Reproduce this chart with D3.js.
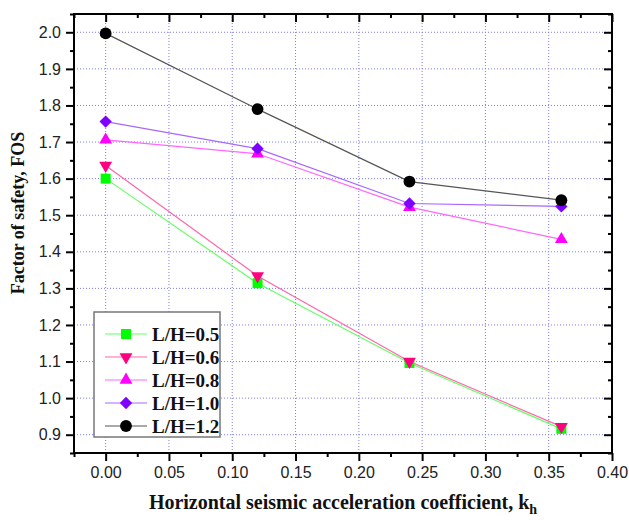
<!DOCTYPE html>
<html>
<head>
<meta charset="utf-8">
<script src="https://cdn.jsdelivr.net/npm/d3@7"></script>
<style>
  body { margin: 0; background: #fff; }
  svg { display: block; }
</style>
</head>
<body>
<svg id="chart" width="629" height="520"></svg>
<script>
const khValues = [0, 0.12, 0.24, 0.36];
const seriesNames = ["L/H=0.5", "L/H=0.6", "L/H=0.8", "L/H=1.0", "L/H=1.2"];
const fos05 = [1.60, 1.314, 1.096, 0.916];
const fos06 = [1.636, 1.334, 1.10, 0.922];
const fos08 = [1.706, 1.668, 1.522, 1.434];
const fos10 = [1.756, 1.682, 1.532, 1.524];
const fos12 = [1.997, 1.79, 1.592, 1.541];
const xTicks = [0, 0.05, 0.1, 0.15, 0.2, 0.25, 0.3, 0.35, 0.4];
const yTicks = [0.9, 1.0, 1.1, 1.2, 1.3, 1.4, 1.5, 1.6, 1.7, 1.8, 1.9, 2.0];

const series = [
  { name: seriesNames[0], values: fos05, color: "#00ff00", line: "#66ff66", symbol: d3.symbolSquare, size: 100, rot: 0 },
  { name: seriesNames[1], values: fos06, color: "#ff0080", line: "#ff66aa", symbol: d3.symbolTriangle, size: 72, rot: 180 },
  { name: seriesNames[2], values: fos08, color: "#ff00ff", line: "#ff66ff", symbol: d3.symbolTriangle, size: 72, rot: 0 },
  { name: seriesNames[3], values: fos10, color: "#8000ff", line: "#a866ff", symbol: d3.symbolSquare, size: 76, rot: 45 },
  { name: seriesNames[4], values: fos12, color: "#000000", line: "#555555", symbol: d3.symbolCircle, size: 110, rot: 0 },
];

const svg = d3.select("#chart");
const plotLeft = 74, plotRight = 612, plotTop = 14, plotBottom = 453;

const x = d3.scaleLinear().domain([-0.025, 0.4]).range([plotLeft, plotRight]);
const y = d3.scaleLinear().domain([0.85, 2.05]).range([plotBottom, plotTop]);

// grid
const grid = svg.append("g").attr("stroke", "#7b7bff").attr("stroke-width", 1)
  .attr("stroke-dasharray", "1,2");
xTicks.slice(0, -1).forEach((t) => {
  grid.append("line").attr("x1", x(t)).attr("x2", x(t)).attr("y1", plotTop).attr("y2", plotBottom);
});
yTicks.forEach((t) => {
  grid.append("line").attr("x1", plotLeft).attr("x2", plotRight).attr("y1", y(t)).attr("y2", y(t));
});

const xMinor = d3.range(-0.025, 0.401, 0.05);
const yMinor = d3.range(0.85, 2.051, 0.1);

function styleAxis(g) {
  g.select(".domain").remove();
  g.selectAll("line").attr("stroke", "#000").attr("stroke-width", 2);
  g.selectAll("text").attr("font-family", "Liberation Sans, Arial, sans-serif")
    .attr("font-size", 16).attr("fill", "#222");
}

// bottom
svg.append("g").attr("transform", `translate(0,${plotBottom})`)
  .call(d3.axisBottom(x).tickValues(xTicks).tickFormat(d3.format(".2f")).tickSize(8).tickPadding(6))
  .call(styleAxis);
svg.append("g").attr("transform", `translate(0,${plotBottom})`)
  .call(d3.axisBottom(x).tickValues(xMinor).tickFormat("").tickSize(4))
  .call(styleAxis);
// top (inward)
svg.append("g").attr("transform", `translate(0,${plotTop})`)
  .call(d3.axisBottom(x).tickValues(xTicks).tickFormat("").tickSize(8))
  .call(styleAxis);
svg.append("g").attr("transform", `translate(0,${plotTop})`)
  .call(d3.axisBottom(x).tickValues(xMinor).tickFormat("").tickSize(4))
  .call(styleAxis);
// left
svg.append("g").attr("transform", `translate(${plotLeft},0)`)
  .call(d3.axisLeft(y).tickValues(yTicks).tickFormat(d3.format(".1f")).tickSize(8).tickPadding(5))
  .call(styleAxis);
svg.append("g").attr("transform", `translate(${plotLeft},0)`)
  .call(d3.axisLeft(y).tickValues(yMinor).tickFormat("").tickSize(4))
  .call(styleAxis);
// right (inward)
svg.append("g").attr("transform", `translate(${plotRight},0)`)
  .call(d3.axisLeft(y).tickValues(yTicks).tickFormat("").tickSize(8))
  .call(styleAxis);
svg.append("g").attr("transform", `translate(${plotRight},0)`)
  .call(d3.axisLeft(y).tickValues(yMinor).tickFormat("").tickSize(4))
  .call(styleAxis);

// frame
svg.append("rect").attr("x", plotLeft).attr("y", plotTop)
  .attr("width", plotRight - plotLeft).attr("height", plotBottom - plotTop)
  .attr("fill", "none").attr("stroke", "#000").attr("stroke-width", 2);

// series
const line = d3.line().x((d, i) => x(khValues[i])).y((d) => y(d));
series.forEach((s) => {
  svg.append("path").datum(s.values).attr("d", line)
    .attr("fill", "none").attr("stroke", s.line).attr("stroke-width", 1.2);
  svg.selectAll(null).data(s.values).enter().append("path")
    .attr("d", d3.symbol().type(s.symbol).size(s.size))
    .attr("transform", (d, i) => `translate(${x(khValues[i])},${y(d)}) rotate(${s.rot})`)
    .attr("fill", s.color);
});

// legend
const lg = svg.append("g").attr("transform", "translate(94,312)");
lg.append("rect").attr("width", 126).attr("height", 125)
  .attr("fill", "#fff").attr("stroke", "#777").attr("stroke-width", 1.5);
series.forEach((s, i) => {
  const ry = 22 + i * 23;
  lg.append("line").attr("x1", 11).attr("x2", 53).attr("y1", ry).attr("y2", ry)
    .attr("stroke", s.line).attr("stroke-width", 1.2);
  lg.append("path").attr("d", d3.symbol().type(s.symbol).size(s.size))
    .attr("transform", `translate(32,${ry}) rotate(${s.rot})`).attr("fill", s.color);
  lg.append("text").attr("x", 58).attr("y", ry + 7).text(s.name)
    .attr("font-family", "Liberation Serif, Times New Roman, serif")
    .attr("font-weight", "bold").attr("font-size", 19).attr("fill", "#111");
});

// axis titles
const xt = svg.append("text").attr("x", 343).attr("y", 509).attr("text-anchor", "middle")
  .attr("font-family", "Liberation Serif, Times New Roman, serif")
  .attr("font-weight", "bold").attr("font-size", 20).attr("fill", "#111");
xt.append("tspan").text("Horizontal seismic acceleration coefficient, k");
xt.append("tspan").attr("font-size", 14).attr("dy", 5).text("h");

svg.append("text").attr("transform", "translate(24,213) rotate(-90)")
  .attr("text-anchor", "middle")
  .attr("font-family", "Liberation Serif, Times New Roman, serif")
  .attr("font-weight", "bold").attr("font-size", 18).attr("fill", "#111")
  .text("Factor of safety, FOS");
</script>
</body>
</html>
